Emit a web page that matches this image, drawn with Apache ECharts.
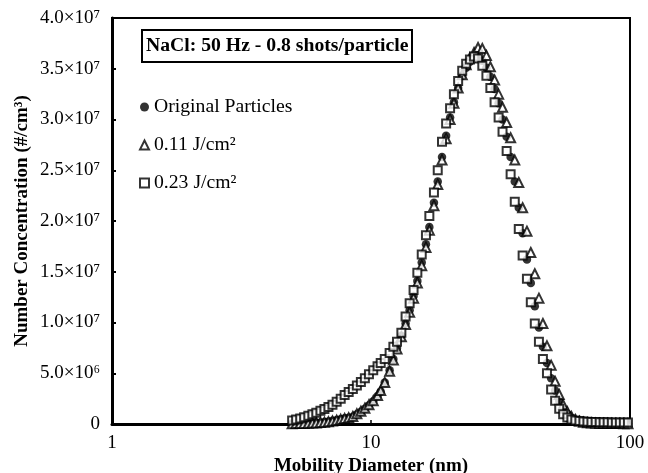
<!DOCTYPE html>
<html><head><meta charset="utf-8">
<script src="https://cdn.jsdelivr.net/npm/echarts@6/dist/echarts.min.js"></script>
<style>html,body{margin:0;padding:0;background:#fff}#c{width:648px;height:473px}</style>
</head><body><div id="c"></div>
<script>
// Mobility diameters (nm), SMPS channels
const diameters = [4.96,5.14,5.33,5.52,5.73,5.94,6.15,6.38,6.61,6.85,7.10,7.37,7.64,7.91,8.20,8.51,8.82,9.14,9.47,9.82,
  10.2,10.6,10.9,11.3,11.8,12.2,12.6,13.1,13.6,14.1,14.6,15.1,15.7,16.3,16.8,17.5,18.1,18.8,19.5,20.2,
  20.9,21.7,22.5,23.3,24.1,25.0,25.9,26.9,27.9,28.9,30.0,31.1,32.2,33.4,34.6,35.9,37.2,38.5,40.0,41.4,
  42.9,44.5,46.1,47.8,49.6,51.4,53.3,55.2,57.3,59.4,61.5,63.8,66.1,68.5,71.0,73.7,76.4,79.1,82.0,85.1,
  88.2,91.4,94.7,98.2];
// Number concentration in units of 1e6 #/cm3
const original = [0.05,0.05,0.06,0.07,0.08,0.10,0.12,0.15,0.20,0.25,0.32,0.40,0.48,0.56,0.62,0.72,0.95,1.2,1.5,1.85,
  2.25,2.75,3.2,4.1,5.3,6.4,7.5,8.7,9.9,11.2,12.6,14.1,15.9,17.7,19.4,21.8,23.9,26.3,28.4,30.2,
  31.7,33.1,34.3,35.1,35.7,36.0,36.1,35.8,35.1,34.2,33.0,31.6,30.0,28.3,26.3,23.9,21.3,18.8,16.2,13.9,
  11.6,9.5,7.6,6.0,4.5,3.3,2.3,1.5,1.0,0.6,0.35,0.2,0.12,0.08,0.06,0.05,0.04,0.04,0.03,0.03,
  0.03,0.02,0.02,0.02];
const fluence011 = [0.03,0.04,0.05,0.06,0.07,0.09,0.11,0.14,0.18,0.23,0.30,0.38,0.46,0.55,0.62,0.75,1.0,1.25,1.55,1.9,
  2.3,2.8,3.3,4.1,5.2,6.3,7.4,8.6,9.8,11.0,12.4,13.9,15.6,17.4,19.1,21.5,23.6,26.0,28.1,30.0,
  31.6,33.1,34.4,35.4,36.1,36.6,37.1,37.0,36.3,35.2,33.9,32.5,31.2,29.7,28.2,26.0,23.8,21.3,19.0,16.9,
  14.8,12.4,9.9,7.7,5.8,4.2,2.9,1.9,1.2,0.75,0.45,0.28,0.18,0.12,0.09,0.07,0.06,0.05,0.05,0.04,
  0.04,0.04,0.03,0.03];
const fluence023 = [0.35,0.45,0.55,0.67,0.82,0.97,1.12,1.3,1.48,1.68,1.9,2.2,2.5,2.85,3.15,3.45,3.8,4.15,4.5,4.9,
  5.3,5.7,6.0,6.4,7.0,7.6,8.1,9.0,10.6,11.9,13.2,14.9,16.7,18.6,20.5,22.8,25.0,27.8,29.6,31.1,
  32.5,33.8,34.8,35.5,35.9,36.2,36.0,35.3,34.3,33.1,31.7,30.2,28.8,26.9,24.6,21.9,19.2,16.6,14.3,12.0,
  9.9,8.1,6.4,5.0,3.4,2.3,1.5,0.95,0.65,0.45,0.35,0.30,0.25,0.22,0.20,0.20,0.18,0.18,0.17,0.16,
  0.15,0.15,0.14,0.14];
const seriesNames = ['Original Particles', '0.11 J/cm²', '0.23 J/cm²'];
const yTickLabels = ['0','5.0×10⁶','1.0×10⁷','1.5×10⁷','2.0×10⁷','2.5×10⁷','3.0×10⁷','3.5×10⁷','4.0×10⁷'];
const xTickLabels = ['1','10','100'];
const titleText = 'NaCl: 50 Hz - 0.8 shots/particle';

const FONT = "'Liberation Serif','Times New Roman',serif";
const pairs = arr => diameters.map((d, i) => [d, arr[i]]);
const chart = echarts.init(document.getElementById('c'), null, {renderer: 'canvas'});
chart.setOption({
  animation: false,
  backgroundColor: '#fff',
  title: {
    text: titleText, left: 142, top: 30,
    borderColor: '#000', borderWidth: 2, padding: [6, 4, 6, 4],
    textStyle: {fontFamily: FONT, fontSize: 19.7, fontWeight: 'bold', color: '#000', lineHeight: 20}
  },
  legend: {
    orient: 'vertical', left: 134, top: 92, itemGap: 18, itemWidth: 9, itemHeight: 9,
    textStyle: {fontFamily: FONT, fontSize: 19.7, color: '#000'},
    data: [
      {name: seriesNames[0], icon: 'circle'},
      {name: seriesNames[1], icon: 'triangle'},
      {name: seriesNames[2], icon: 'rect'}
    ]
  },
  grid: {left: 112, right: 18, top: 18, bottom: 49, show: true, borderColor: '#000', borderWidth: 2,
    containLabel: false, outerBoundsMode: 'none'},
  xAxis: {
    type: 'log', logBase: 10, min: 1, max: 100,
    name: 'Mobility Diameter (nm)', nameLocation: 'middle', nameGap: 33, nameMoveOverlap: false,
    nameTextStyle: {fontFamily: FONT, fontSize: 19, fontWeight: 'bold', color: '#000'},
    axisLine: {lineStyle: {color: '#000', width: 3}},
    axisTick: {inside: true, length: 4, lineStyle: {color: '#000', width: 1.5}},
    axisLabel: {fontFamily: FONT, fontSize: 19, color: '#000', margin: 10,
      formatter: v => xTickLabels[Math.round(Math.log10(v))]},
    splitLine: {show: false}, minorTick: {show: false}
  },
  yAxis: {
    type: 'value', min: 0, max: 40, interval: 5,
    name: 'Number Concentration (#/cm³)', nameLocation: 'middle', nameGap: 80, nameMoveOverlap: false,
    nameTextStyle: {fontFamily: FONT, fontSize: 19, fontWeight: 'bold', color: '#000'},
    axisLine: {lineStyle: {color: '#000', width: 3}},
    axisTick: {inside: true, length: 4, lineStyle: {color: '#000', width: 2}},
    axisLabel: {fontFamily: FONT, fontSize: 19, color: '#000', margin: 12,
      formatter: v => yTickLabels[Math.round(v / 5)]},
    splitLine: {show: false}
  },
  series: [
    {name: seriesNames[0], type: 'scatter', data: pairs(original), symbol: 'circle', symbolSize: 8.5,
      itemStyle: {color: '#000'}, z: 2},
    {name: seriesNames[1], type: 'scatter', data: pairs(fluence011), symbol: 'triangle', symbolSize: 9,
      itemStyle: {color: '#fff', borderColor: '#000', borderWidth: 2}, z: 3},
    {name: seriesNames[2], type: 'scatter', data: pairs(fluence023), symbol: 'rect', symbolSize: 8,
      itemStyle: {color: '#fff', borderColor: '#000', borderWidth: 2}, z: 4}
  ]
});
</script></body></html>
